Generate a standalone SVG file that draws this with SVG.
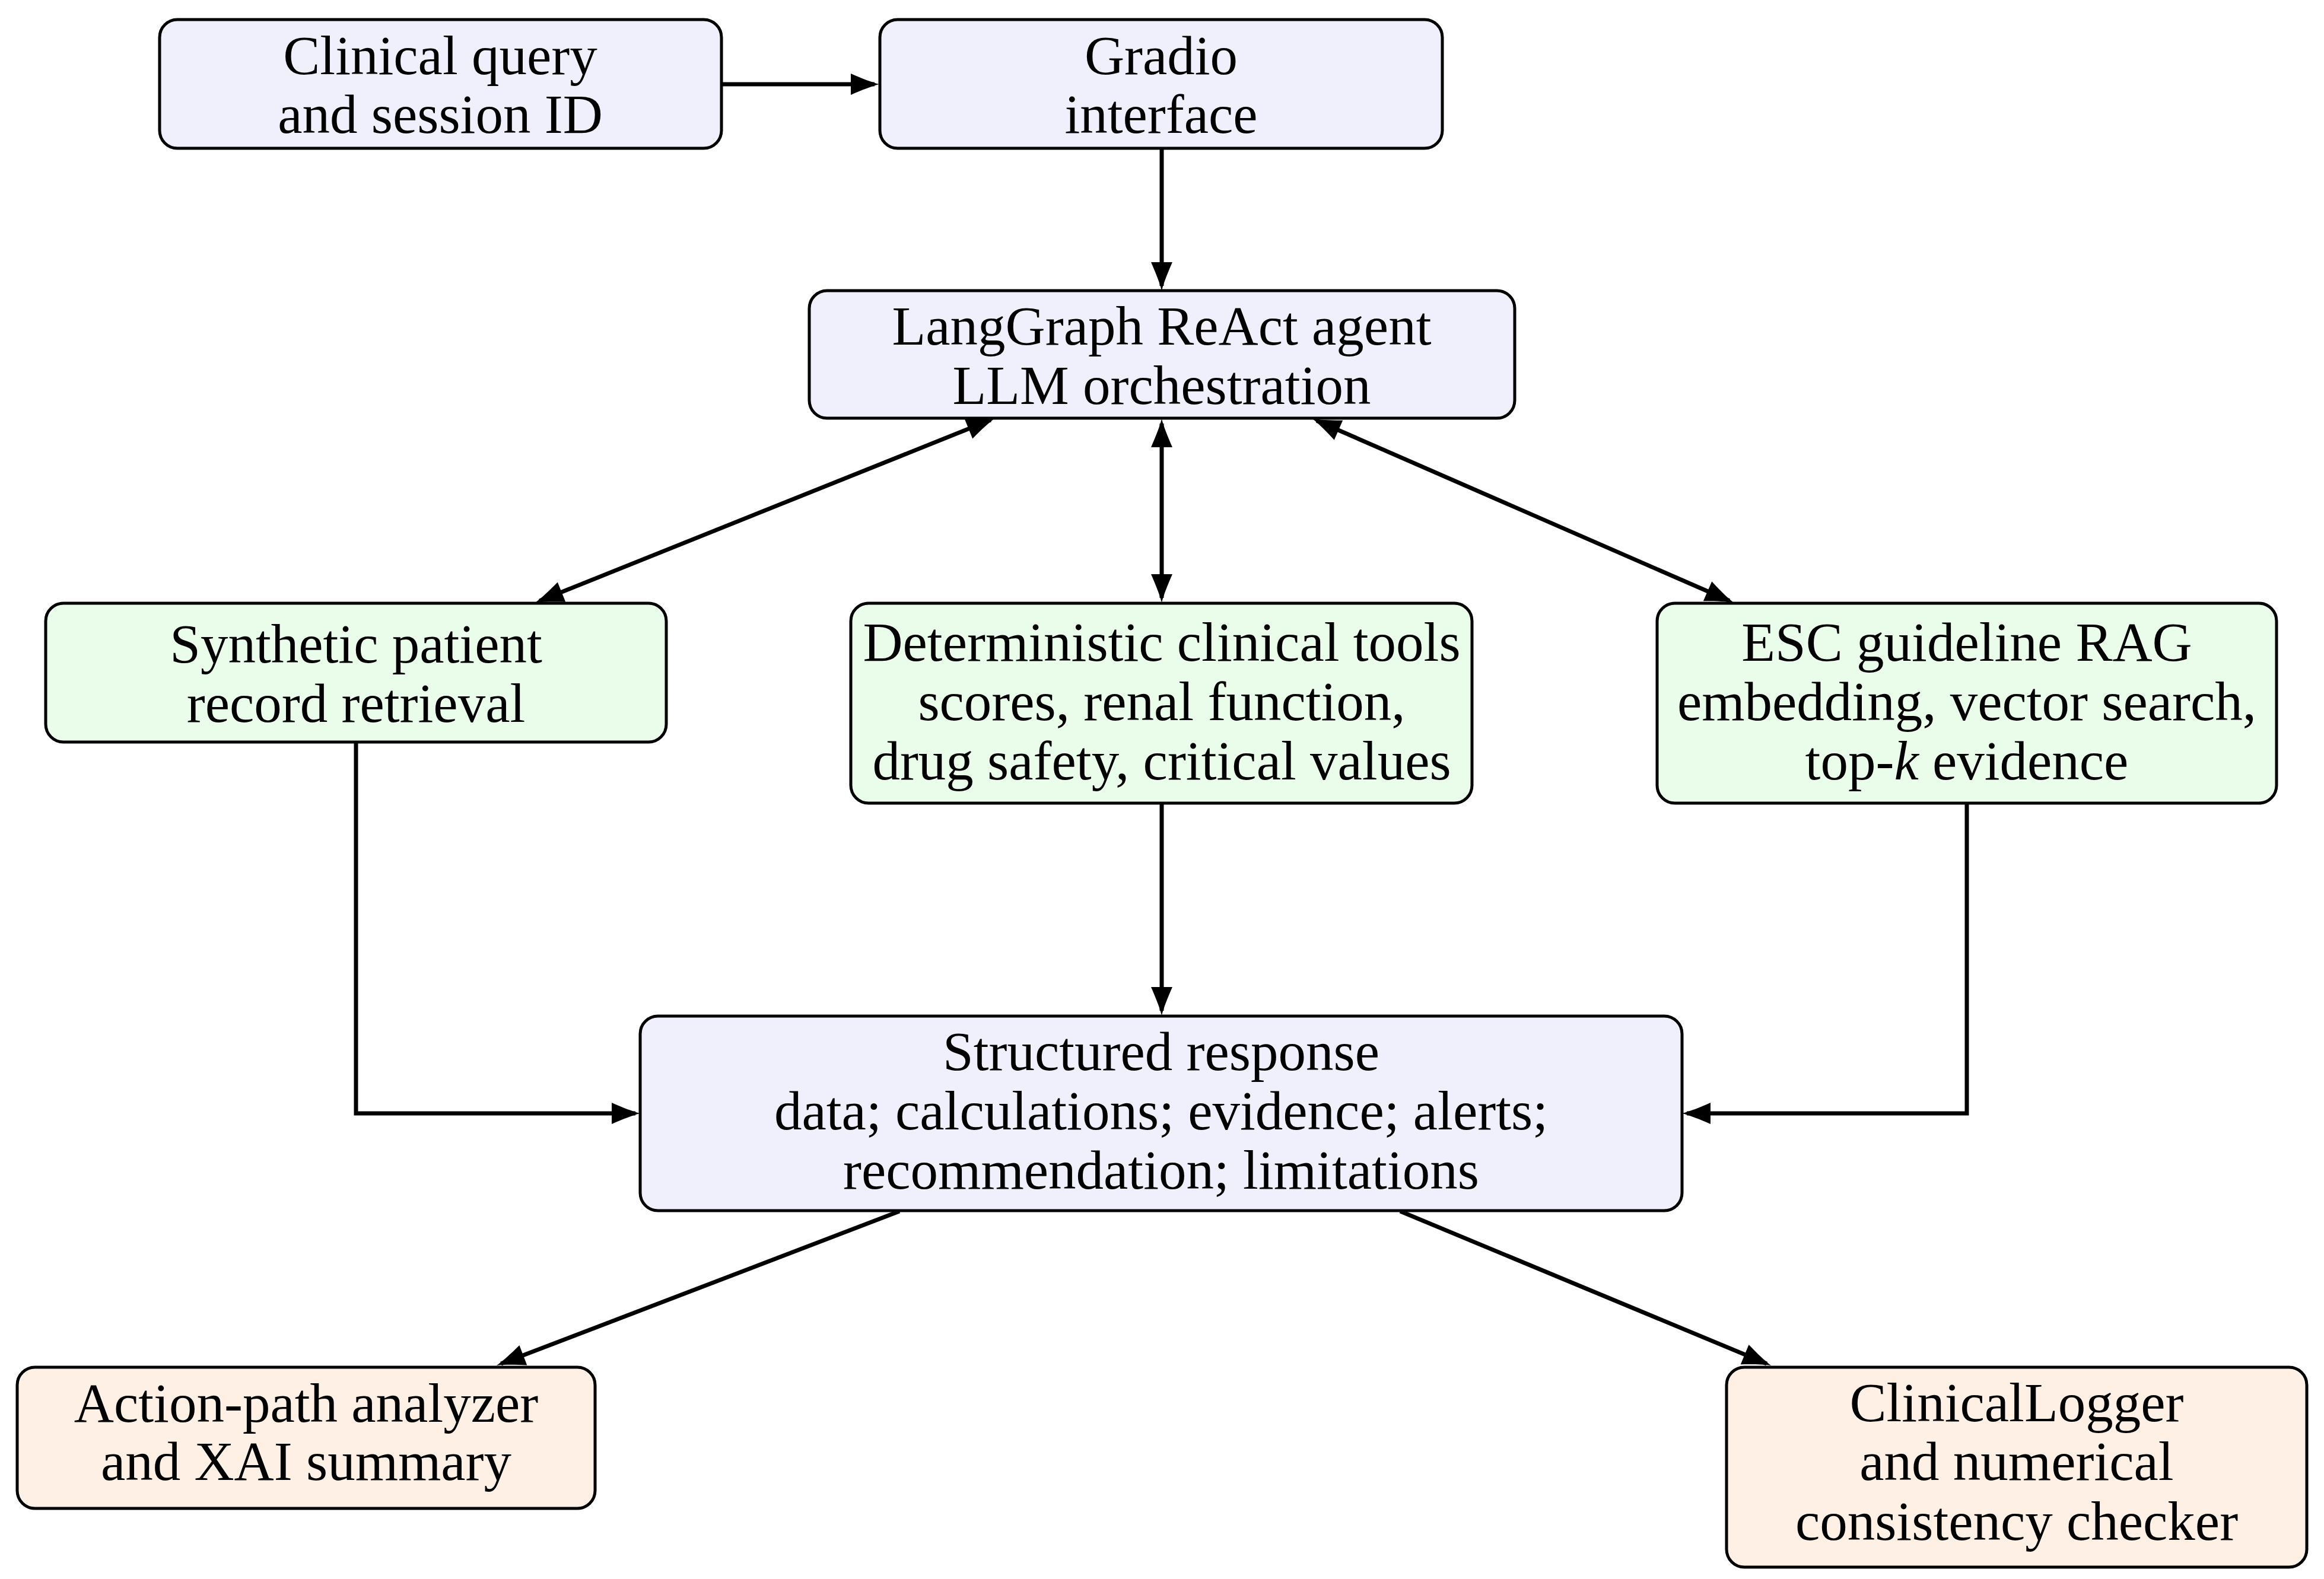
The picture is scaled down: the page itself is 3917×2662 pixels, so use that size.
<svg xmlns="http://www.w3.org/2000/svg" width="3917" height="2662" viewBox="0 0 3917 2662">
<style>
.box{stroke:#000;stroke-width:5}
.blue{fill:#F0F0FC}
.green{fill:#EAFCEA}
.peach{fill:#FEF0E4}
.lbl{font-family:"Liberation Serif","Times New Roman",serif;font-size:93px;fill:#000;text-anchor:middle}
.conn{fill:none;stroke:#000;stroke-width:7}
.one{marker-end:url(#head)}
.two{marker-start:url(#head);marker-end:url(#head)}
</style>
<defs>
<marker id="head" markerUnits="userSpaceOnUse" viewBox="-50 -20 52 40" markerWidth="52" markerHeight="40" refX="-8" refY="0" orient="auto-start-reverse">
<path d="M0,0 C-12,-3 -30,-10 -48,-18 L-48,18 C-30,10 -12,3 0,0 Z" fill="#000"/>
</marker>
</defs>
<rect width="3917" height="2662" fill="#fff"/>
<g id="connectors">
<path class="conn one" d="M1217,142 L1474,142"/>
<path class="conn one" d="M1958,250 L1958,482"/>
<path class="conn two" d="M909.4,1013 L1669.6,708"/>
<path class="conn two" d="M1958,1008 L1958,714"/>
<path class="conn two" d="M2914.7,1012.8 L2219.3,709.2"/>
<path class="conn one" d="M600,1251 L600,1877 L1071,1877"/>
<path class="conn one" d="M1958,1354 L1958,1704"/>
<path class="conn one" d="M3315,1354 L3315,1877 L2843,1877"/>
<path class="conn one" d="M1516,2042 L844.5,2299.1"/>
<path class="conn one" d="M2360,2042 L2977.6,2298.9"/>
</g>
<g id="clinical-query">
<rect class="box blue" x="269" y="33" width="947" height="217" rx="30"/>
<text class="lbl" x="742" y="125">Clinical query</text>
<text class="lbl" x="742" y="224">and session ID</text>
</g>
<g id="gradio">
<rect class="box blue" x="1483" y="33" width="948" height="217" rx="30"/>
<text class="lbl" x="1957" y="125">Gradio</text>
<text class="lbl" x="1957" y="224">interface</text>
</g>
<g id="langgraph">
<rect class="box blue" x="1364" y="490" width="1189" height="215" rx="30"/>
<text class="lbl" x="1958" y="581">LangGraph ReAct agent</text>
<text class="lbl" x="1958" y="681">LLM orchestration</text>
</g>
<g id="synthetic-patient">
<rect class="box green" x="77" y="1017" width="1046" height="234" rx="30"/>
<text class="lbl" x="600" y="1117">Synthetic patient</text>
<text class="lbl" x="600" y="1217">record retrieval</text>
</g>
<g id="deterministic-tools">
<rect class="box green" x="1434" y="1017" width="1047" height="337" rx="30"/>
<text class="lbl" x="1958" y="1114">Deterministic clinical tools</text>
<text class="lbl" x="1958" y="1214">scores, renal function,</text>
<text class="lbl" x="1958" y="1314">drug safety, critical values</text>
</g>
<g id="esc-rag">
<rect class="box green" x="2793" y="1017" width="1044" height="337" rx="30"/>
<text class="lbl" x="3315" y="1114">ESC guideline RAG</text>
<text class="lbl" x="3315" y="1214">embedding, vector search,</text>
<text class="lbl" x="3315" y="1314">top-<tspan font-style="italic">k</tspan> evidence</text>
</g>
<g id="structured-response">
<rect class="box blue" x="1079" y="1713" width="1756" height="328" rx="30"/>
<text class="lbl" x="1957" y="1804">Structured response</text>
<text class="lbl" x="1957" y="1904">data; calculations; evidence; alerts;</text>
<text class="lbl" x="1957" y="2004">recommendation; limitations</text>
</g>
<g id="action-path">
<rect class="box peach" x="29" y="2305" width="974" height="238" rx="30"/>
<text class="lbl" x="516" y="2397">Action-path analyzer</text>
<text class="lbl" x="516" y="2495">and XAI summary</text>
</g>
<g id="clinical-logger">
<rect class="box peach" x="2910" y="2305" width="978" height="337" rx="30"/>
<text class="lbl" x="3399" y="2396">ClinicalLogger</text>
<text class="lbl" x="3399" y="2495">and numerical</text>
<text class="lbl" x="3399" y="2596">consistency checker</text>
</g>
</svg>
